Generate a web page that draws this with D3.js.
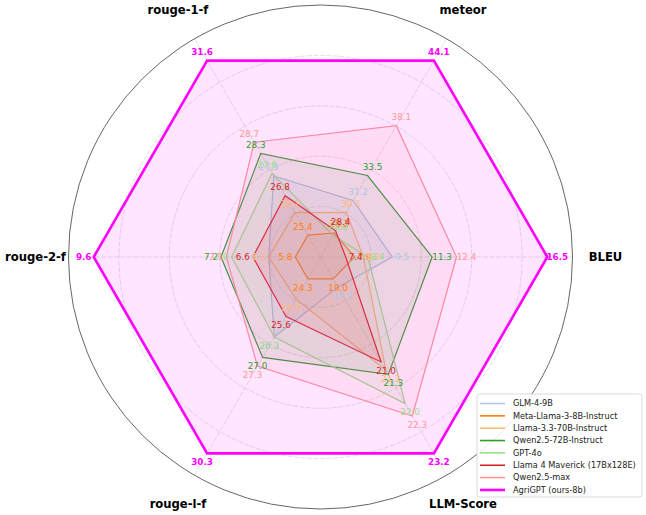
<!DOCTYPE html>
<html>
<head>
<meta charset="utf-8">
<script src="https://cdn.jsdelivr.net/npm/d3@7"></script>
<style>
  body { margin: 0; background: #fff; }
  svg { display: block; font-family: "DejaVu Sans", sans-serif; }
</style>
</head>
<body>
<svg id="chart" width="646" height="515"></svg>
<script>
// metrics, counter-clockwise from the right
var metrics = ["BLEU", "meteor", "rouge-1-f", "rouge-2-f", "rouge-l-f", "LLM-Score"];

var models = ["GLM-4-9B", "Meta-Llama-3-8B-Instruct", "Llama-3.3-70B-Instruct",
  "Qwen2.5-72B-Instruct", "GPT-4o", "Llama 4 Maverick (17Bx128E)", "Qwen2.5-max", "AgriGPT (ours-8b)"];

var colors = ["#aec7e8", "#ff7f0e", "#ffbb78", "#2ca02c", "#98df8a", "#d62728", "#ff9896", "#ff00ff"];

// values per model, same order as metrics
var glm      = [9.5, 31.2, 27.5, 6.3, 26.3, 19.2];
var llama8b  = [7.8, 28.2, 25.4, 5.8, 24.3, 19.0];
var llama70b = [8.2, 30.1, 26.2, 6.3, 25.0, 21.2];
var qwen72b  = [11.3, 33.5, 28.3, 7.2, 27.0, 21.3];
var gpt4o    = [8.4, 28.0, 27.6, 7.0, 26.3, 22.0];
var maverick = [7.4, 28.4, 26.8, 6.6, 25.6, 21.0];
var qwenmax  = [12.4, 38.1, 28.7, 7.1, 27.3, 22.3];
var agrigpt  = [16.5, 44.1, 31.6, 9.6, 30.3, 23.2];

var seriesValues = [glm, llama8b, llama70b, qwen72b, gpt4o, maverick, qwenmax, agrigpt];

var gridLevels = [0.2, 0.4, 0.6, 0.8];

var svg = d3.select("#chart");
var cx = 320.5, cy = 257, R = 252;

var rScale = d3.scaleLinear().domain([0, 1]).range([0, R]);
// every metric is stretched between its min and max
var metricScales = metrics.map(function(m, i) {
  var col = seriesValues.map(function(s) { return s[i]; });
  return d3.scaleLinear().domain(d3.extent(col)).range([0.1, 0.9]);
});
var angleScale = d3.scaleLinear().domain([0, metrics.length]).range([0, 2 * Math.PI]);
// d3 radial angles start at 12 o'clock and run clockwise
function radialAngle(i) { return Math.PI / 2 - angleScale(i); }
function px(i, r) { return cx + r * Math.cos(angleScale(i)); }
function py(i, r) { return cy - r * Math.sin(angleScale(i)); }

var g = svg.append("g");

// grid
g.selectAll(".ring")
  .data(gridLevels)
  .enter()
  .append("circle")
  .attr("cx", cx).attr("cy", cy)
  .attr("r", function(d) { return rScale(d); })
  .attr("fill", "none")
  .attr("stroke", "#d4d4d4")
  .attr("stroke-width", 0.7)
  .attr("stroke-dasharray", "5,1.5");

g.selectAll(".spoke")
  .data(metrics)
  .enter()
  .append("line")
  .attr("x1", cx).attr("y1", cy)
  .attr("x2", function(d, i) { return px(i, rScale(1)); })
  .attr("y2", function(d, i) { return py(i, rScale(1)); })
  .attr("stroke", "#d4d4d4")
  .attr("stroke-width", 0.7)
  .attr("stroke-dasharray", "5,1.5");

g.append("circle")
  .attr("cx", cx).attr("cy", cy).attr("r", rScale(1))
  .attr("fill", "none")
  .attr("stroke", "#555")
  .attr("stroke-width", 0.9);

var radar = d3.lineRadial()
  .angle(function(d, i) { return radialAngle(i); })
  .radius(function(d, i) { return rScale(metricScales[i](d)); })
  .curve(d3.curveLinearClosed);

var shapes = g.append("g").attr("transform", "translate(" + cx + "," + cy + ")");
var labels = g.append("g");

seriesValues.forEach(function(vals, k) {
  var last = k === seriesValues.length - 1;
  shapes.append("path")
    .attr("d", radar(vals))
    .attr("fill", colors[k])
    .attr("fill-opacity", 0.1)
    .attr("stroke", colors[k])
    .attr("stroke-width", last ? 2.6 : 1.2)
    .attr("stroke-linejoin", "miter");

  // value labels sit on top of all shapes
  labels.selectAll(".lab" + k)
    .data(vals)
    .enter()
    .append("text")
    .attr("x", function(d, i) { return px(i, rScale(metricScales[i](d)) + 10); })
    .attr("y", function(d, i) { return py(i, rScale(metricScales[i](d)) + 10); })
    .attr("dy", "0.35em")
    .attr("text-anchor", "middle")
    .attr("font-size", 8.8)
    .attr("font-weight", last ? "bold" : "normal")
    .attr("fill", colors[k])
    .text(function(d) { return d.toFixed(1); });
});

// metric names
g.selectAll(".metric")
  .data(metrics)
  .enter()
  .append("text")
  .attr("x", function(d, i) { return px(i, 285); })
  .attr("y", function(d, i) { return py(i, 285); })
  .attr("dy", "0.35em")
  .attr("text-anchor", "middle")
  .attr("font-size", 11.6)
  .attr("font-weight", "bold")
  .attr("fill", "#000")
  .text(function(d) { return d; });

// legend
var lg = svg.append("g").attr("transform", "translate(477,394)");
lg.append("rect")
  .attr("width", 165).attr("height", 103)
  .attr("rx", 2.5)
  .attr("fill", "#fff").attr("fill-opacity", 0.85)
  .attr("stroke", "#d0d0d0").attr("stroke-width", 0.8);

var rows = lg.selectAll(".row")
  .data(models)
  .enter()
  .append("g")
  .attr("transform", function(d, i) { return "translate(0," + (9.5 + i * 12.35) + ")"; });
rows.append("line")
  .attr("x1", 3).attr("x2", 28)
  .attr("stroke", function(d, i) { return colors[i]; })
  .attr("stroke-width", function(d, i) { return i === models.length - 1 ? 2.6 : 1.6; });
rows.append("text")
  .attr("x", 36)
  .attr("dy", "0.35em")
  .attr("font-size", 8.2)
  .attr("fill", "#222")
  .text(function(d) { return d; });
</script>
</body>
</html>
